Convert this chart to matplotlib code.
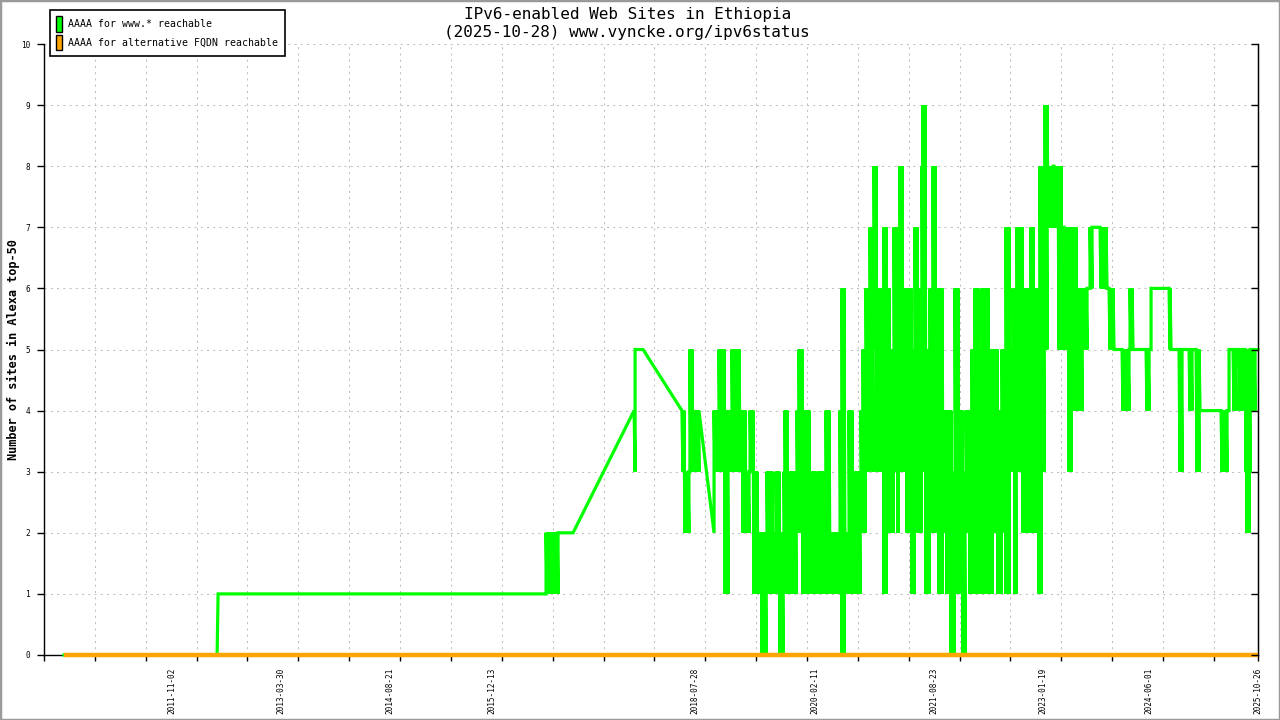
import numpy as np
import matplotlib
matplotlib.use("Agg")
import matplotlib.pyplot as plt
import matplotlib.dates as mdates
from matplotlib.patches import Patch, Rectangle

GREEN = "#00ff00"
ORANGE = "#ffa500"
GRID = "#c0c0c0"
MONO = "DejaVu Sans Mono"

# x axis range and label dates (as printed under the axis)
x_start = "2010-03-10"
x_end = "2025-10-26"
grid_step_days = 239.2
label_dates = ["2011-11-02", "2013-03-30", "2014-08-21", "2015-12-13",
               "2018-07-28", "2020-02-11", "2021-08-23", "2023-01-19",
               "2024-06-01", "2025-10-26"]

# one column of the plot is ~4.7 days; each run is a set of columns
# that swing between a high and a low value
days_per_col = 4.7026

seg_starts = ["2010-06-12", "2012-06-01", "2016-08-26", "2016-12-31",
              "2017-10-14", "2018-05-27", "2018-10-25"]

seg_runs = [
    [1],
    [1, 1],
    [13],
    [1],
    [1, 1, 8],
    [1, 2, 5, 3, 7],
    [1, 4, 6, 4, 3, 8, 3, 3, 4, 4,
     4, 4, 5, 6, 3, 4, 4, 1, 3, 9,
     2, 4, 7, 6, 2, 8, 4, 10, 2, 3,
     4, 4, 8, 2, 3, 4, 3, 1, 3, 7,
     3, 3, 4, 4, 1, 1, 3, 4, 5, 3,
     3, 4, 1, 3, 4, 3, 3, 3, 4, 4,
     4, 1, 3, 4, 4, 3, 4, 2, 3, 4,
     3, 4, 3, 4, 5, 4, 4, 4, 3, 2,
     2, 6, 8, 3, 3, 2, 1, 2, 3, 3,
     6, 1, 4, 3, 1, 2, 4, 3, 5, 6,
     5, 2, 3, 8, 6, 3, 4, 9, 7, 3,
     14, 3, 1, 1, 18, 1, 9, 3, 7, 3,
     4, 3, 22, 6, 1, 1, 4, 3, 3, 3,
     3, 1, 3, 1, 2, 3, 3],
]

seg_hi = [
    [0],
    [0, 1],
    [2],
    [2],
    [4, 5, 5],
    [4, 4, 3, 5, 4],
    [4, 4, 5, 4, 4, 5, 4, 4, 3, 4,
     3, 2, 2, 3, 2, 3, 2, 3, 4, 3,
     4, 5, 4, 3, 2, 3, 4, 2, 4, 6,
     2, 4, 3, 4, 5, 6, 7, 7, 8, 6,
     7, 6, 5, 7, 6, 7, 8, 6, 6, 5,
     7, 6, 8, 9, 5, 6, 8, 6, 6, 4,
     4, 4, 3, 6, 4, 3, 4, 4, 5, 6,
     5, 6, 6, 5, 5, 4, 5, 7, 5, 6,
     6, 7, 6, 7, 6, 5, 6, 8, 8, 9,
     8, 8, 8, 8, 7, 7, 7, 7, 7, 6,
     6, 6, 7, 7, 7, 6, 6, 5, 5, 6,
     5, 5, 5, 6, 6, 6, 5, 5, 5, 5,
     5, 5, 4, 4, 4, 5, 5, 5, 5, 5,
     5, 5, 5, 5, 5, 5, 5],
]

seg_lo = [
    [0],
    [0, 1],
    [1],
    [2],
    [4, 3, 5],
    [4, 3, 2, 3, 3],
    [2, 3, 3, 1, 3, 3, 3, 2, 2, 3,
     1, 1, 0, 1, 1, 1, 0, 1, 1, 1,
     2, 2, 1, 1, 1, 1, 1, 1, 1, 0,
     1, 1, 1, 2, 2, 3, 4, 3, 5, 3,
     1, 2, 2, 3, 2, 3, 3, 3, 2, 1,
     2, 2, 3, 3, 1, 2, 2, 2, 1, 2,
     1, 0, 0, 1, 1, 0, 2, 1, 1, 1,
     2, 1, 2, 1, 2, 1, 2, 1, 3, 3,
     1, 3, 2, 2, 2, 2, 1, 1, 3, 5,
     7, 8, 7, 5, 5, 7, 5, 3, 4, 4,
     5, 6, 6, 7, 6, 6, 5, 5, 4, 5,
     5, 4, 5, 5, 6, 5, 5, 3, 5, 4,
     5, 3, 4, 3, 4, 4, 5, 4, 5, 4,
     5, 3, 2, 3, 5, 4, 5],
]

# alternative FQDN series: flat at zero over the whole period
alt_dates = ["2010-06-12", "2025-10-26"]
alt_vals = [0, 0]

y_ticks = list(range(0, 11))


def build_www():
    xs, ys = [], []
    for start, runs, his, los in zip(seg_starts, seg_runs, seg_hi, seg_lo):
        x0 = mdates.datestr2num(start)
        col = 0
        for n, hi, lo in zip(runs, his, los):
            for _ in range(n):
                x = x0 + col * days_per_col
                xs += [x, x]
                ys += [lo, hi]
                col += 1
    return np.array(xs), np.array(ys)


def main():
    fig = plt.figure(figsize=(12.8, 7.2), dpi=100)
    W, H = 1280, 720
    ax = fig.add_axes([44 / W, 65 / H, (1258 - 44) / W, (655 - 44) / H])

    xw, yw = build_www()
    ax.plot(xw, yw, color=GREEN, lw=2.3, solid_joinstyle="miter",
            zorder=3, clip_on=False)
    ax.plot(mdates.datestr2num(alt_dates), alt_vals, color=ORANGE, lw=3.2,
            solid_capstyle="butt", zorder=4, clip_on=False)

    xmin = mdates.datestr2num(x_start)
    xmax = mdates.datestr2num(x_end)
    ax.set_xlim(xmin, xmax)
    ax.set_ylim(0, 10)

    # vertical grid / tick marks every ~239 days, labels at their own dates
    ax.xaxis.remove_overlapping_locs = False
    grid_x = [xmin + k * grid_step_days for k in range(24)] + [xmax]
    ax.set_xticks(grid_x)
    ax.set_xticklabels([])
    ax.set_xticks(mdates.datestr2num(label_dates), minor=True)
    ax.set_xticklabels(label_dates, minor=True, rotation=90,
                       fontsize=5.6, family=MONO)
    ax.tick_params(axis="x", which="major", direction="out", length=4.5,
                   width=1, color="black")
    ax.tick_params(axis="x", which="minor", length=0, pad=9)

    ax.set_yticks(y_ticks)
    ax.set_yticklabels([str(v) for v in y_ticks], fontsize=5.6, family=MONO)
    ax.tick_params(axis="y", direction="out", length=5, width=1, pad=5)

    ax.grid(True, axis="x", which="major", color=GRID, ls=(0, (2, 4)), lw=0.75)
    ax.grid(True, axis="y", color=GRID, ls=(0, (2, 4)), lw=0.75)
    ax.set_axisbelow(True)

    ax.spines["top"].set_visible(False)
    for s in ["left", "bottom", "right"]:
        ax.spines[s].set_color("black")
        ax.spines[s].set_linewidth(1)

    # mirrored ticks on the right side, pointing inward
    ax2 = ax.twinx()
    ax2.set_ylim(0, 10)
    ax2.set_yticks(y_ticks)
    ax2.set_yticklabels([])
    ax2.tick_params(axis="y", direction="in", length=5, width=1)
    for s in ["top", "left", "bottom"]:
        ax2.spines[s].set_visible(False)

    fig.text(0.49, 1 - 14 / H, "IPv6-enabled Web Sites in Ethiopia",
             ha="center", va="center", fontsize=11.5, family=MONO)
    fig.text(0.49, 1 - 33 / H, "(2025-10-28) www.vyncke.org/ipv6status",
             ha="center", va="center", fontsize=11.5, family=MONO)
    fig.text(13 / W, 1 - 350 / H, "Number of sites in Alexa top-50",
             rotation=90, ha="center", va="center", fontsize=8.6,
             family=MONO, fontweight="bold")

    handles = [Patch(facecolor=GREEN, edgecolor="black", lw=1),
               Patch(facecolor=ORANGE, edgecolor="black", lw=1)]
    leg = ax.legend(handles, ["AAAA for www.* reachable",
                              "AAAA for alternative FQDN reachable"],
                    loc="upper left", bbox_to_anchor=(50 / W, 1 - 10 / H),
                    bbox_transform=fig.transFigure, borderaxespad=0,
                    fancybox=False, framealpha=1, edgecolor="black",
                    handlelength=0.6, handleheight=2.0, handletextpad=0.6,
                    borderpad=0.65, labelspacing=0.3,
                    prop={"family": MONO, "size": 7.1})
    leg.get_frame().set_linewidth(1.2)
    leg.set_zorder(10)

    fig.patches.append(Rectangle((0, 0), 1, 1, transform=fig.transFigure,
                                 fill=False, ec="#9a9a9a", lw=2.5))

    fig.savefig("out.png", dpi=100)


if __name__ == "__main__":
    main()
